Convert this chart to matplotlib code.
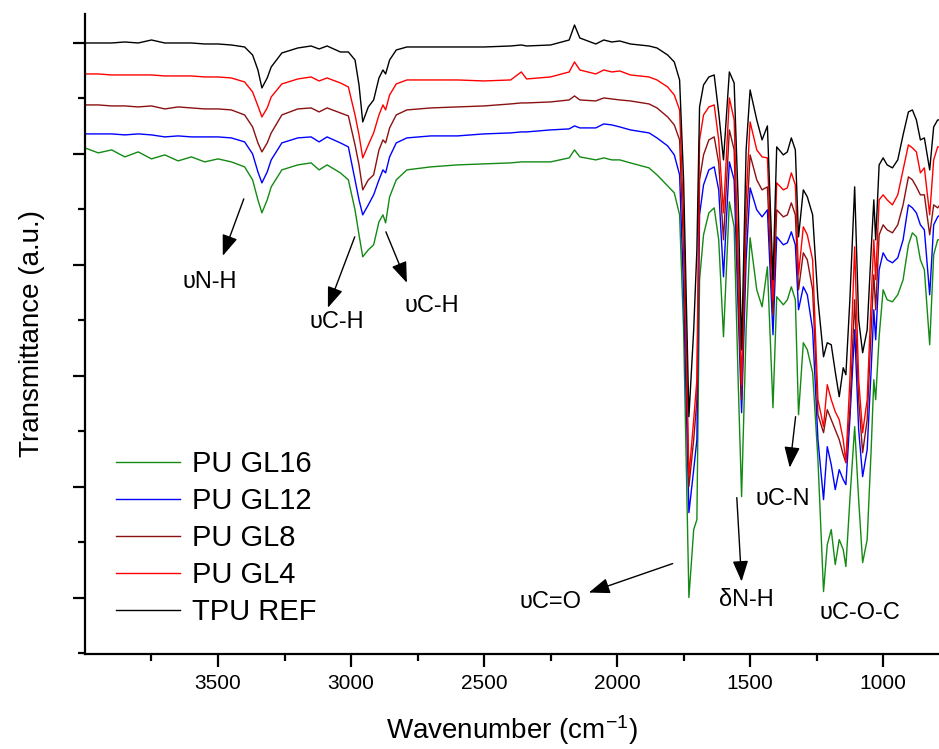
import numpy as np
import matplotlib
matplotlib.use('Agg')
import matplotlib.pyplot as plt

plt.rcParams['font.family'] = ['Liberation Sans', 'DejaVu Sans']
plt.rcParams['mathtext.default'] = 'regular'

# FTIR spectra, stacked, transmittance in arbitrary units
wavenumber = [4000, 3950, 3900, 3850, 3800, 3750, 3700, 3650, 3600, 3550, 3500, 3450,
              3400, 3370, 3350, 3335, 3315, 3300, 3260, 3200, 3150, 3120, 3090, 3040,
              3010, 2985, 2970, 2956, 2935, 2915, 2895, 2880, 2870, 2855, 2830, 2790,
              2700, 2600, 2500, 2400, 2360, 2340, 2250, 2180, 2160, 2140, 2080, 2050,
              2020, 1990, 1950, 1880, 1850, 1810, 1785, 1765, 1750, 1730, 1712, 1700,
              1690, 1675, 1655, 1635, 1618, 1600, 1578, 1560, 1545, 1532, 1515, 1500,
              1475, 1455, 1435, 1414, 1400, 1375, 1360, 1345, 1330, 1318, 1300, 1285,
              1265, 1245, 1224, 1210, 1195, 1180, 1165, 1150, 1140, 1125, 1107, 1092,
              1077, 1060, 1045, 1035, 1028, 1015, 1000, 985, 965, 945, 925, 905,
              890, 875, 860, 845, 825, 810, 795, 786]

tpu_ref = [611, 611, 611, 612, 611, 614, 611, 611, 611, 610, 610, 609,
           607, 599, 584, 566, 576, 587, 601, 606, 608, 605, 608, 602,
           602, 594, 569, 532, 547, 554, 576, 584, 580, 594, 604, 607,
           607, 607, 607, 608, 609, 608, 609, 614, 629, 616, 610, 614,
           612, 613, 610, 608, 606, 599, 592, 574, 474, 237, 324, 404,
           547, 569, 577, 579, 541, 494, 582, 571, 454, 304, 504, 564,
           534, 514, 528, 374, 507, 499, 502, 516, 504, 417, 464, 457,
           439, 354, 297, 311, 309, 282, 257, 286, 279, 354, 467, 334,
           301, 324, 404, 454, 414, 489, 496, 489, 486, 494, 519, 542,
           544, 534, 514, 516, 484, 527, 534, 534]

pu_gl4 = [580, 580, 579, 579, 579, 579, 578, 578, 578, 577, 577, 576,
          572, 562, 548, 537, 546, 557, 570, 575, 577, 573, 576, 571,
          567, 539, 519, 496, 509, 521, 539, 549, 544, 559, 570, 574,
          574, 574, 573, 574, 582, 575, 577, 582, 592, 584, 580, 584,
          582, 583, 579, 577, 574, 567, 559, 544, 434, 177, 234, 274,
          514, 539, 547, 549, 514, 441, 556, 534, 394, 269, 454, 532,
          504, 497, 496, 354, 471, 464, 466, 481, 469, 379, 427, 419,
          394, 254, 227, 269, 254, 242, 234, 214, 191, 274, 407, 274,
          221, 254, 354, 414, 374, 454, 459, 454, 449, 459, 484, 509,
          506, 502, 481, 486, 439, 494, 507, 507]

pu_gl8 = [549, 549, 548, 548, 547, 548, 545, 547, 546, 545, 545, 544,
          539, 527, 511, 502, 511, 521, 539, 545, 546, 542, 546, 541,
          538, 509, 489, 464, 474, 479, 504, 514, 511, 526, 539, 544,
          546, 547, 548, 550, 551, 551, 552, 554, 558, 554, 553, 556,
          555, 554, 553, 550, 546, 537, 529, 514, 404, 167, 214, 254,
          474, 499, 514, 517, 491, 414, 524, 504, 364, 254, 424, 499,
          474, 464, 467, 339, 444, 437, 439, 451, 439, 364, 401, 394,
          364, 239, 221, 244, 234, 224, 214, 199, 191, 244, 354, 254,
          201, 234, 324, 379, 344, 419, 429, 424, 421, 429, 449, 477,
          474, 467, 459, 459, 419, 449, 446, 449]

pu_gl12 = [520, 520, 520, 519, 520, 519, 517, 518, 517, 517, 517, 516,
           512, 500, 482, 471, 482, 494, 511, 516, 517, 512, 517, 511,
           507, 474, 454, 439, 449, 459, 474, 484, 481, 497, 511, 516,
           518, 518, 520, 521, 522, 522, 524, 525, 528, 526, 526, 530,
           529, 527, 524, 521, 516, 508, 499, 479, 364, 141, 184, 214,
           439, 469, 484, 487, 464, 377, 492, 474, 344, 241, 394, 466,
           444, 437, 444, 319, 417, 409, 411, 422, 409, 344, 367, 359,
           324, 214, 154, 207, 189, 164, 184, 174, 169, 234, 324, 224,
           177, 204, 284, 344, 314, 384, 401, 394, 391, 396, 414, 449,
           446, 441, 429, 424, 359, 429, 437, 439]

pu_gl16 = [506, 501, 504, 497, 502, 495, 499, 493, 497, 492, 495, 492,
           487, 474, 454, 441, 454, 467, 484, 489, 491, 484, 489, 481,
           474, 444, 419, 397, 404, 409, 432, 439, 431, 457, 474, 484,
           487, 489, 490, 491, 492, 492, 492, 496, 504, 497, 494, 496,
           494, 494, 491, 486, 479, 468, 461, 439, 324, 56, 124, 134,
           374, 419, 441, 446, 414, 317, 452, 427, 274, 157, 324, 416,
           364, 347, 387, 246, 357, 349, 354, 367, 354, 239, 311, 304,
           281, 194, 62, 109, 124, 89, 114, 104, 87, 154, 227, 154,
           91, 114, 204, 274, 254, 317, 364, 354, 352, 359, 374, 409,
           421, 417, 394, 384, 309, 399, 414, 414]

series = [
    ('PU GL16', pu_gl16, '#138a13'),
    ('PU GL12', pu_gl12, '#0000ff'),
    ('PU GL8', pu_gl8, '#8b1010'),
    ('PU GL4', pu_gl4, '#ff0000'),
    ('TPU REF', tpu_ref, '#000000'),
]

band_labels = [
    # text, text pos, arrow tail, arrow head
    ('υN-H', (3530, 372), (3403, 455), (3482, 398)),
    ('υC-H', (3053, 332), (2986, 417), (3087, 346)),
    ('υC-H', (2696, 348), (2869, 422), (2790, 371)),
    ('υC=O', (2249, 52), (1791, 90), (2106, 61)),
    ('δN-H', (1513, 54), (1550, 156), (1532, 72)),
    ('υC-N', (1378, 155), (1329, 237), (1351, 186)),
    ('υC-O-C', (1088, 41), None, None),
]

fig = plt.figure(figsize=(9.39, 7.49), dpi=100)
ax = fig.add_axes([0.0905, 0.1275, 0.9095, 0.8538])

for name, vals, col in series:
    ax.plot(wavenumber, vals, color=col, lw=1.0, label=name)

for txt, tpos, tail, head in band_labels:
    ax.text(tpos[0], tpos[1], txt, fontsize=17, ha='center', va='center')
    if tail is not None:
        ax.annotate('', xy=head, xytext=tail,
                    arrowprops=dict(arrowstyle='-|>,head_length=0.8,head_width=0.3',
                                    color='black', lw=1.0, mutation_scale=16,
                                    shrinkA=0, shrinkB=0))

ax.set_xlim(4000, 790)
ax.set_ylim(0, 640)

for s in ['top', 'right']:
    ax.spines[s].set_visible(False)
for s in ['left', 'bottom']:
    ax.spines[s].set_linewidth(1.6)

ax.set_xticks([3500, 3000, 2500, 2000, 1500, 1000])
ax.set_xticks([3750, 3250, 2750, 2250, 1750, 1250], minor=True)
ax.set_yticks(np.arange(56, 640, 111))
ax.set_yticks(np.arange(1, 640, 111), minor=True)
ax.set_yticklabels([])
ax.tick_params(which='major', direction='out', length=9, width=1.6, labelsize=15, pad=6)
ax.tick_params(which='minor', direction='out', length=5, width=1.6)

ax.set_xlabel('Wavenumber (cm$^{-1}$)', fontsize=20, labelpad=14)
ax.set_ylabel('Transmittance (a.u.)', fontsize=20, labelpad=14)

ax.legend(loc='upper left', bbox_to_anchor=(0.036, 0.318), frameon=False,
          fontsize=21, handlelength=2.2, handletextpad=0.4, labelspacing=0.31,
          borderpad=0, borderaxespad=0)

fig.savefig('out.png', dpi=100)
